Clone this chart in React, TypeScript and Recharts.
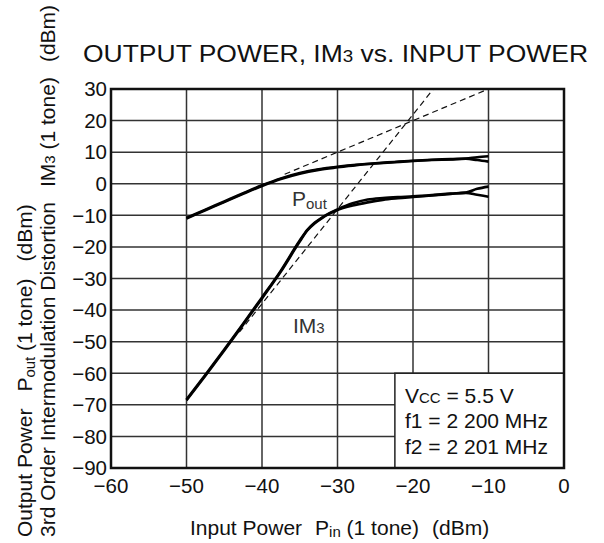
import React from 'react'
import { LineChart, Line, XAxis, YAxis, CartesianGrid, ReferenceArea } from 'recharts'

// input power (dBm) vs output / IM3 (dBm)
const poutA = [
  { x: -50, y: -10.8 }, { x: -47.5, y: -8.2 }, { x: -45, y: -5.6 }, { x: -42.5, y: -3.0 },
  { x: -40, y: -0.5 }, { x: -37.5, y: 1.7 }, { x: -35, y: 3.4 }, { x: -32.5, y: 4.6 },
  { x: -30, y: 5.4 }, { x: -27.5, y: 6.0 }, { x: -25, y: 6.5 }, { x: -22.5, y: 6.9 },
  { x: -20, y: 7.3 }, { x: -17.5, y: 7.6 }, { x: -15, y: 7.8 }, { x: -13, y: 8.0 },
  { x: -11.5, y: 8.4 }, { x: -10, y: 8.7 },
]
const poutB = [
  { x: -50, y: -11.0 }, { x: -47.5, y: -8.4 }, { x: -45, y: -5.8 }, { x: -42.5, y: -3.2 },
  { x: -40, y: -0.7 }, { x: -37.5, y: 1.5 }, { x: -35, y: 3.2 }, { x: -32.5, y: 4.4 },
  { x: -30, y: 5.2 }, { x: -27.5, y: 5.9 }, { x: -25, y: 6.4 }, { x: -22.5, y: 6.8 },
  { x: -20, y: 7.2 }, { x: -17.5, y: 7.5 }, { x: -15, y: 7.7 }, { x: -13, y: 7.9 },
  { x: -11.5, y: 7.5 }, { x: -10, y: 7.0 },
]
const im3A = [
  { x: -50, y: -68.3 }, { x: -47.5, y: -60.5 }, { x: -45, y: -52.5 }, { x: -42.5, y: -44.3 },
  { x: -40, y: -36.0 }, { x: -37.5, y: -27.5 }, { x: -35, y: -18.0 }, { x: -34, y: -14.6 },
  { x: -33, y: -12.3 }, { x: -32, y: -10.6 }, { x: -31, y: -9.2 }, { x: -30, y: -8.1 },
  { x: -28, y: -6.2 }, { x: -26, y: -5.0 }, { x: -24, y: -4.5 }, { x: -22, y: -4.2 },
  { x: -20, y: -4.0 }, { x: -17.5, y: -3.6 }, { x: -15, y: -3.1 }, { x: -13, y: -2.8 },
  { x: -11.5, y: -1.6 }, { x: -10, y: -0.9 },
]
const im3B = [
  { x: -50, y: -68.6 }, { x: -47.5, y: -60.8 }, { x: -45, y: -52.8 }, { x: -42.5, y: -44.6 },
  { x: -40, y: -36.3 }, { x: -37.5, y: -27.8 }, { x: -35, y: -18.3 }, { x: -34, y: -14.8 },
  { x: -33, y: -12.5 }, { x: -32, y: -10.8 }, { x: -31, y: -9.4 }, { x: -30, y: -8.3 },
  { x: -28, y: -6.9 }, { x: -26, y: -5.9 }, { x: -24, y: -5.1 }, { x: -22, y: -4.6 },
  { x: -20, y: -4.2 }, { x: -17.5, y: -3.7 }, { x: -15, y: -3.2 }, { x: -13, y: -2.9 },
  { x: -11.5, y: -3.5 }, { x: -10, y: -4.1 },
]
// extrapolated slopes (1:1 and 3:1)
const poutSlope = [{ x: -37, y: 3 }, { x: -10, y: 30 }]
const im3Slope = [{ x: -43, y: -47 }, { x: -17.3, y: 30 }]

const xTicks = [-60, -50, -40, -30, -20, -10, 0]
const yTicks = [30, 20, 10, 0, -10, -20, -30, -40, -50, -60, -70, -80, -90]

const font = '"Liberation Sans", Arial, Helvetica, sans-serif'
const minus = (v: number) => String(v).replace('-', '\u2212')

export default function App() {
  const tick = { fill: '#111', fontSize: 20.5, fontFamily: font }
  return (
    <div style={{ position: 'absolute', left: 0, top: 0, width: 604, height: 543, background: '#fff' }}>
      <LineChart width={604} height={543} margin={{ top: 89, right: 40, bottom: 0, left: 0 }}>
        <CartesianGrid stroke="#333" strokeWidth={1.5} horizontalValues={yTicks} verticalValues={xTicks} />
        <XAxis
          type="number"
          dataKey="x"
          domain={[-60, 0]}
          ticks={xTicks}
          tickFormatter={minus}
          tick={tick}
          tickSize={0}
          tickMargin={10}
          axisLine={false}
          height={75}
          allowDataOverflow
        />
        <YAxis
          type="number"
          dataKey="y"
          domain={[-90, 30]}
          ticks={yTicks}
          tickFormatter={minus}
          tick={tick}
          tickSize={0}
          tickMargin={4}
          axisLine={false}
          width={111}
          interval={0}
          allowDataOverflow
        />
        <ReferenceArea x1={-22.4} x2={0} y1={-90} y2={-60} fill="#fff" fillOpacity={1} stroke="#222" strokeWidth={1.5} />
        <ReferenceArea x1={-60} x2={0} y1={-90} y2={30} fill="none" stroke="#111" strokeWidth={2.5} />
        <Line data={poutSlope} dataKey="y" type="linear" stroke="#111" strokeWidth={1.2} strokeDasharray="6 4" dot={false} isAnimationActive={false} />
        <Line data={im3Slope} dataKey="y" type="linear" stroke="#111" strokeWidth={1.2} strokeDasharray="6 4" dot={false} isAnimationActive={false} />
        <Line data={poutA} dataKey="y" type="monotone" stroke="#000" strokeWidth={2.6} dot={false} isAnimationActive={false} />
        <Line data={poutB} dataKey="y" type="monotone" stroke="#000" strokeWidth={2.6} dot={false} isAnimationActive={false} />
        <Line data={im3A} dataKey="y" type="monotone" stroke="#000" strokeWidth={2.6} dot={false} isAnimationActive={false} />
        <Line data={im3B} dataKey="y" type="monotone" stroke="#000" strokeWidth={2.6} dot={false} isAnimationActive={false} />
      </LineChart>
      <svg width={604} height={543} style={{ position: 'absolute', left: 0, top: 0, pointerEvents: 'none' }}>
        <g fontFamily={font} fill="#111">
          <text x={83} y={62} fontSize={24} textLength={505} lengthAdjust="spacingAndGlyphs">
            OUTPUT POWER, IM<tspan fontSize={17}>3</tspan> vs. INPUT POWER
          </text>
          <text x={190} y={535} fontSize={21}>
            Input Power<tspan dx={13}>P</tspan><tspan fontSize={15} dy={2}>in</tspan>
            <tspan dy={-2}> (1 tone)</tspan><tspan dx={13}>(dBm)</tspan>
          </text>
          <text transform="translate(32,537) rotate(-90)" fontSize={21}>
            Output Power<tspan dx={17}>P</tspan><tspan fontSize={15} dy={3}>out</tspan>
            <tspan dy={-3}> (1 tone)</tspan><tspan dx={17}>(dBm)</tspan>
          </text>
          <text transform="translate(55,537) rotate(-90)" fontSize={21}>
            3rd Order Intermodulation Distortion<tspan dx={15}>IM</tspan><tspan fontSize={15}>3</tspan>
            <tspan> (1 tone)</tspan><tspan dx={15}>(dBm)</tspan>
          </text>
          <text x={292} y={206} fontSize={21} fill="#333">
            P<tspan fontSize={15} dy={3}>out</tspan>
          </text>
          <text x={293} y={333} fontSize={21} fill="#333">
            IM<tspan fontSize={15}>3</tspan>
          </text>
          <text x={405} y={403} fontSize={21}>
            V<tspan fontSize={15}>CC</tspan> = 5.5 V
          </text>
          <text x={405} y={428} fontSize={21}>f1 = 2 200 MHz</text>
          <text x={405} y={454} fontSize={21}>f2 = 2 201 MHz</text>
        </g>
      </svg>
    </div>
  )
}
